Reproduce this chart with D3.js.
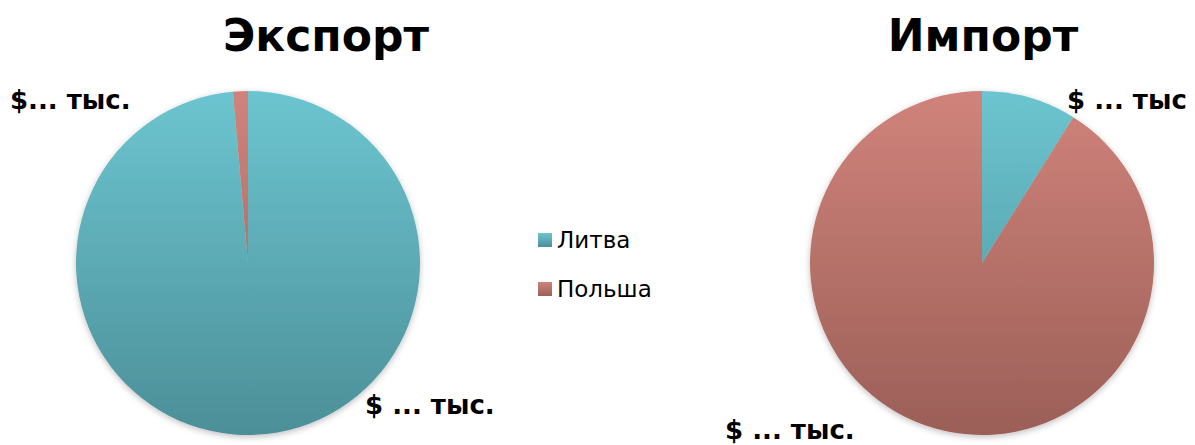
<!doctype html>
<html>
  <head>
    <meta charset="utf-8">
    <script src="https://cdnjs.cloudflare.com/ajax/libs/d3/7.8.5/d3.min.js"></script>
  <style>
    body { margin: 0; background: #fff; }
    text { font-family: "DejaVu Sans", Verdana, sans-serif; }
  </style>
  </head>
  <body>
    <svg id="chart" width="1195" height="445"></svg>
    <script>
      // data
      var countries = ["Литва", "Польша"];
      var exportValues = [98.6, 1.4];
      var importValues = [8.9, 91.1];
      var titles = ["Экспорт", "Импорт"];
      var exportLabels = ["$ ... тыс.", "$... тыс."];
      var importLabels = ["$ ... тыс", "$ ... тыс."];

      var svg = d3.select("#chart");
      var r = 172;

      var topColors = d3.scaleOrdinal().domain(countries).range(["#6cc5d0", "#d0837b"]);
      var bottomColors = d3.scaleOrdinal().domain(countries).range(["#4c8f98", "#9b5f57"]);

      var defs = svg.append("defs");
      var shadow = defs.append("filter").attr("id", "shadow")
        .attr("x", "-10%").attr("y", "-10%").attr("width", "120%").attr("height", "120%");
      shadow.append("feDropShadow")
        .attr("dx", 0).attr("dy", 2).attr("stdDeviation", 3)
        .attr("flood-color", "#000").attr("flood-opacity", 0.25);

      // gradient in the pie group's own coordinates (centre at 0,0)
      function makeGrad(id, name) {
        var g = defs.append("linearGradient").attr("id", id)
          .attr("gradientUnits", "userSpaceOnUse")
          .attr("x1", 0).attr("x2", 0).attr("y1", -r).attr("y2", r);
        g.append("stop").attr("offset", "0%").attr("stop-color", topColors(name));
        g.append("stop").attr("offset", "100%").attr("stop-color", bottomColors(name));
      }

      var pie = d3.pie().sort(null).value(d => d.v);
      var arc = d3.arc().innerRadius(0).outerRadius(r);

      function drawPie(key, cx, cy, values, labels, labelPos) {
        countries.forEach((c, i) => makeGrad(key + i, c));
        var data = countries.map((c, i) => ({ name: c, v: values[i], i: i }));
        var g = svg.append("g").attr("transform", "translate(" + cx + "," + cy + ")");
        g.append("g").attr("filter", "url(#shadow)")
          .selectAll("path")
          .data(pie(data))
          .enter()
          .append("path")
            .attr("d", arc)
            .style("fill", d => "url(#" + key + d.data.i + ")");
        svg.selectAll("text.lab-" + key)
          .data(labels)
          .enter()
          .append("text")
            .attr("class", "lab-" + key)
            .attr("x", (d, i) => labelPos[i][0])
            .attr("y", (d, i) => labelPos[i][1])
            .style("font-size", "26px")
            .style("font-weight", "bold")
            .text(d => d);
      }

      drawPie("exp", 248, 263, exportValues, exportLabels, [[365, 414], [10, 109]]);
      drawPie("imp", 982, 263, importValues, importLabels, [[1067, 109], [725, 439]]);

      svg.selectAll("text.title")
        .data(titles)
        .enter()
        .append("text")
          .attr("class", "title")
          .attr("x", (d, i) => [326, 983][i])
          .attr("y", 51)
          .attr("text-anchor", "middle")
          .style("font-size", "44px")
          .style("font-weight", "bold")
          .text(d => d);

      // legend
      var legend = svg.selectAll("g.legend")
        .data(countries)
        .enter()
        .append("g")
          .attr("class", "legend")
          .attr("transform", (d, i) => "translate(538," + (233 + i * 49) + ")");
      legend.each(function(d, i) {
        var gid = "leg" + i;
        var lg = defs.append("linearGradient").attr("id", gid)
          .attr("x1", 0).attr("x2", 0).attr("y1", 0).attr("y2", 1);
        lg.append("stop").attr("offset", "0%").attr("stop-color", topColors(d));
        lg.append("stop").attr("offset", "100%").attr("stop-color", bottomColors(d));
        d3.select(this).append("rect")
          .attr("width", 14).attr("height", 14)
          .style("fill", "url(#" + gid + ")");
      });
      legend.append("text")
        .attr("x", 19)
        .attr("y", 15)
        .style("font-size", "23px")
        .text(d => d);
    </script>
  </body>
</html>
